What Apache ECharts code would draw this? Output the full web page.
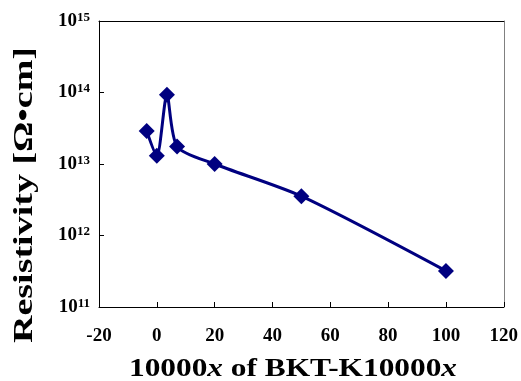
<!DOCTYPE html>
<html><head><meta charset="utf-8">
<script src="https://cdn.jsdelivr.net/npm/echarts@6/dist/echarts.min.js"></script>
<style>html,body{margin:0;padding:0;background:#fff}#c{width:521px;height:381px}</style>
</head><body><div id="c"></div>
<script>
const xValues = [-3.5, 0, 3.5, 7, 20, 50, 100];
const resistivity = [2.9e13, 1.3e13, 9.3e13, 1.75e13, 1.0e13, 3.55e12, 3.2e11];
const xTicks = [-20, 0, 20, 40, 60, 80, 100, 120];
const yExponents = [11, 12, 13, 14, 15];
const yTitle = 'Resistivity [Ω•cm]';
const xTitleParts = ['10000', 'x', ' of BKT-K10000', 'x'];

const FONT = '"Liberation Serif","Times New Roman",serif';
function measure(text, size, style) {
  const c = document.createElement('canvas').getContext('2d');
  c.font = (style || '') + ' bold ' + size + 'px ' + FONT;
  return c.measureText(text).width;
}
const ySize = 28, xSize = 26;
const yW = measure(yTitle, ySize);
const xW = measure(xTitleParts[0] + xTitleParts[2], xSize) + 2 * measure('x', xSize, 'italic');

const chart = echarts.init(document.getElementById('c'), null, {renderer: 'canvas'});
const labelRich = {
  b: {fontFamily: FONT, fontWeight: 'bold', fontSize: 19, color: '#000', lineHeight: 20},
  s: {fontFamily: FONT, fontWeight: 'bold', fontSize: 13, color: '#000', lineHeight: 12, verticalAlign: 'top'}
};
chart.setOption({
  animation: false,
  backgroundColor: '#fff',
  grid: {left: 99, top: 21, right: 17, bottom: 74, containLabel: false},
  xAxis: [{
    type: 'value', min: xTicks[0], max: xTicks[xTicks.length - 1], interval: 20,
    axisLine: {show: true, onZero: false, lineStyle: {color: '#000', width: 1}},
    axisTick: {show: true, inside: true, length: 5, lineStyle: {color: '#000'}},
    splitLine: {show: false},
    axisLabel: {margin: 20, fontFamily: FONT, fontWeight: 'bold', fontSize: 19, color: '#000'}
  }, {
    type: 'value', position: 'top', min: xTicks[0], max: xTicks[xTicks.length - 1], interval: 20,
    axisLine: {show: true, onZero: false, lineStyle: {color: '#000', width: 1}},
    axisTick: {show: false}, axisLabel: {show: false}, splitLine: {show: false}
  }],
  yAxis: [{
    type: 'log', logBase: 10, min: Math.pow(10, yExponents[0]), max: Math.pow(10, yExponents[yExponents.length - 1]),
    interval: 1,
    axisLine: {show: true, onZero: false, lineStyle: {color: '#000', width: 1}},
    axisTick: {show: true, inside: true, length: 5, lineStyle: {color: '#000'}},
    splitLine: {show: false},
    minorTick: {show: false},
    axisLabel: {
      margin: 9,
      formatter: v => '{b|10}{s|' + Math.round(Math.log10(v)) + '}',
      rich: labelRich
    }
  }, {
    type: 'log', logBase: 10, position: 'right',
    min: Math.pow(10, yExponents[0]), max: Math.pow(10, yExponents[yExponents.length - 1]),
    axisLine: {show: true, onZero: false, lineStyle: {color: '#808080', width: 1}},
    axisTick: {show: false}, axisLabel: {show: false}, splitLine: {show: false}
  }],
  series: [{
    type: 'line',
    data: xValues.map((x, i) => [x, resistivity[i]]),
    smooth: 0.25,
    lineStyle: {color: '#000080', width: 3},
    itemStyle: {color: '#000080'},
    symbol: 'diamond',
    symbolSize: 16
  }],
  graphic: [{
    type: 'text', x: 25, y: 195, rotation: Math.PI / 2, scaleX: 296 / yW, scaleY: 1,
    style: {text: yTitle, font: 'bold ' + ySize + 'px ' + FONT, fill: '#000', align: 'center', verticalAlign: 'middle'}
  }, {
    type: 'text', x: 293, y: 369, scaleX: 328 / xW, scaleY: 1,
    style: {
      text: '{a|' + xTitleParts[0] + '}{i|' + xTitleParts[1] + '}{a|' + xTitleParts[2] + '}{i|' + xTitleParts[3] + '}',
      align: 'center', verticalAlign: 'middle',
      rich: {
        a: {fontFamily: FONT, fontWeight: 'bold', fontSize: xSize, fill: '#000'},
        i: {fontFamily: FONT, fontWeight: 'bold', fontStyle: 'italic', fontSize: xSize, fill: '#000'}
      }
    }
  }]
});
</script></body></html>
